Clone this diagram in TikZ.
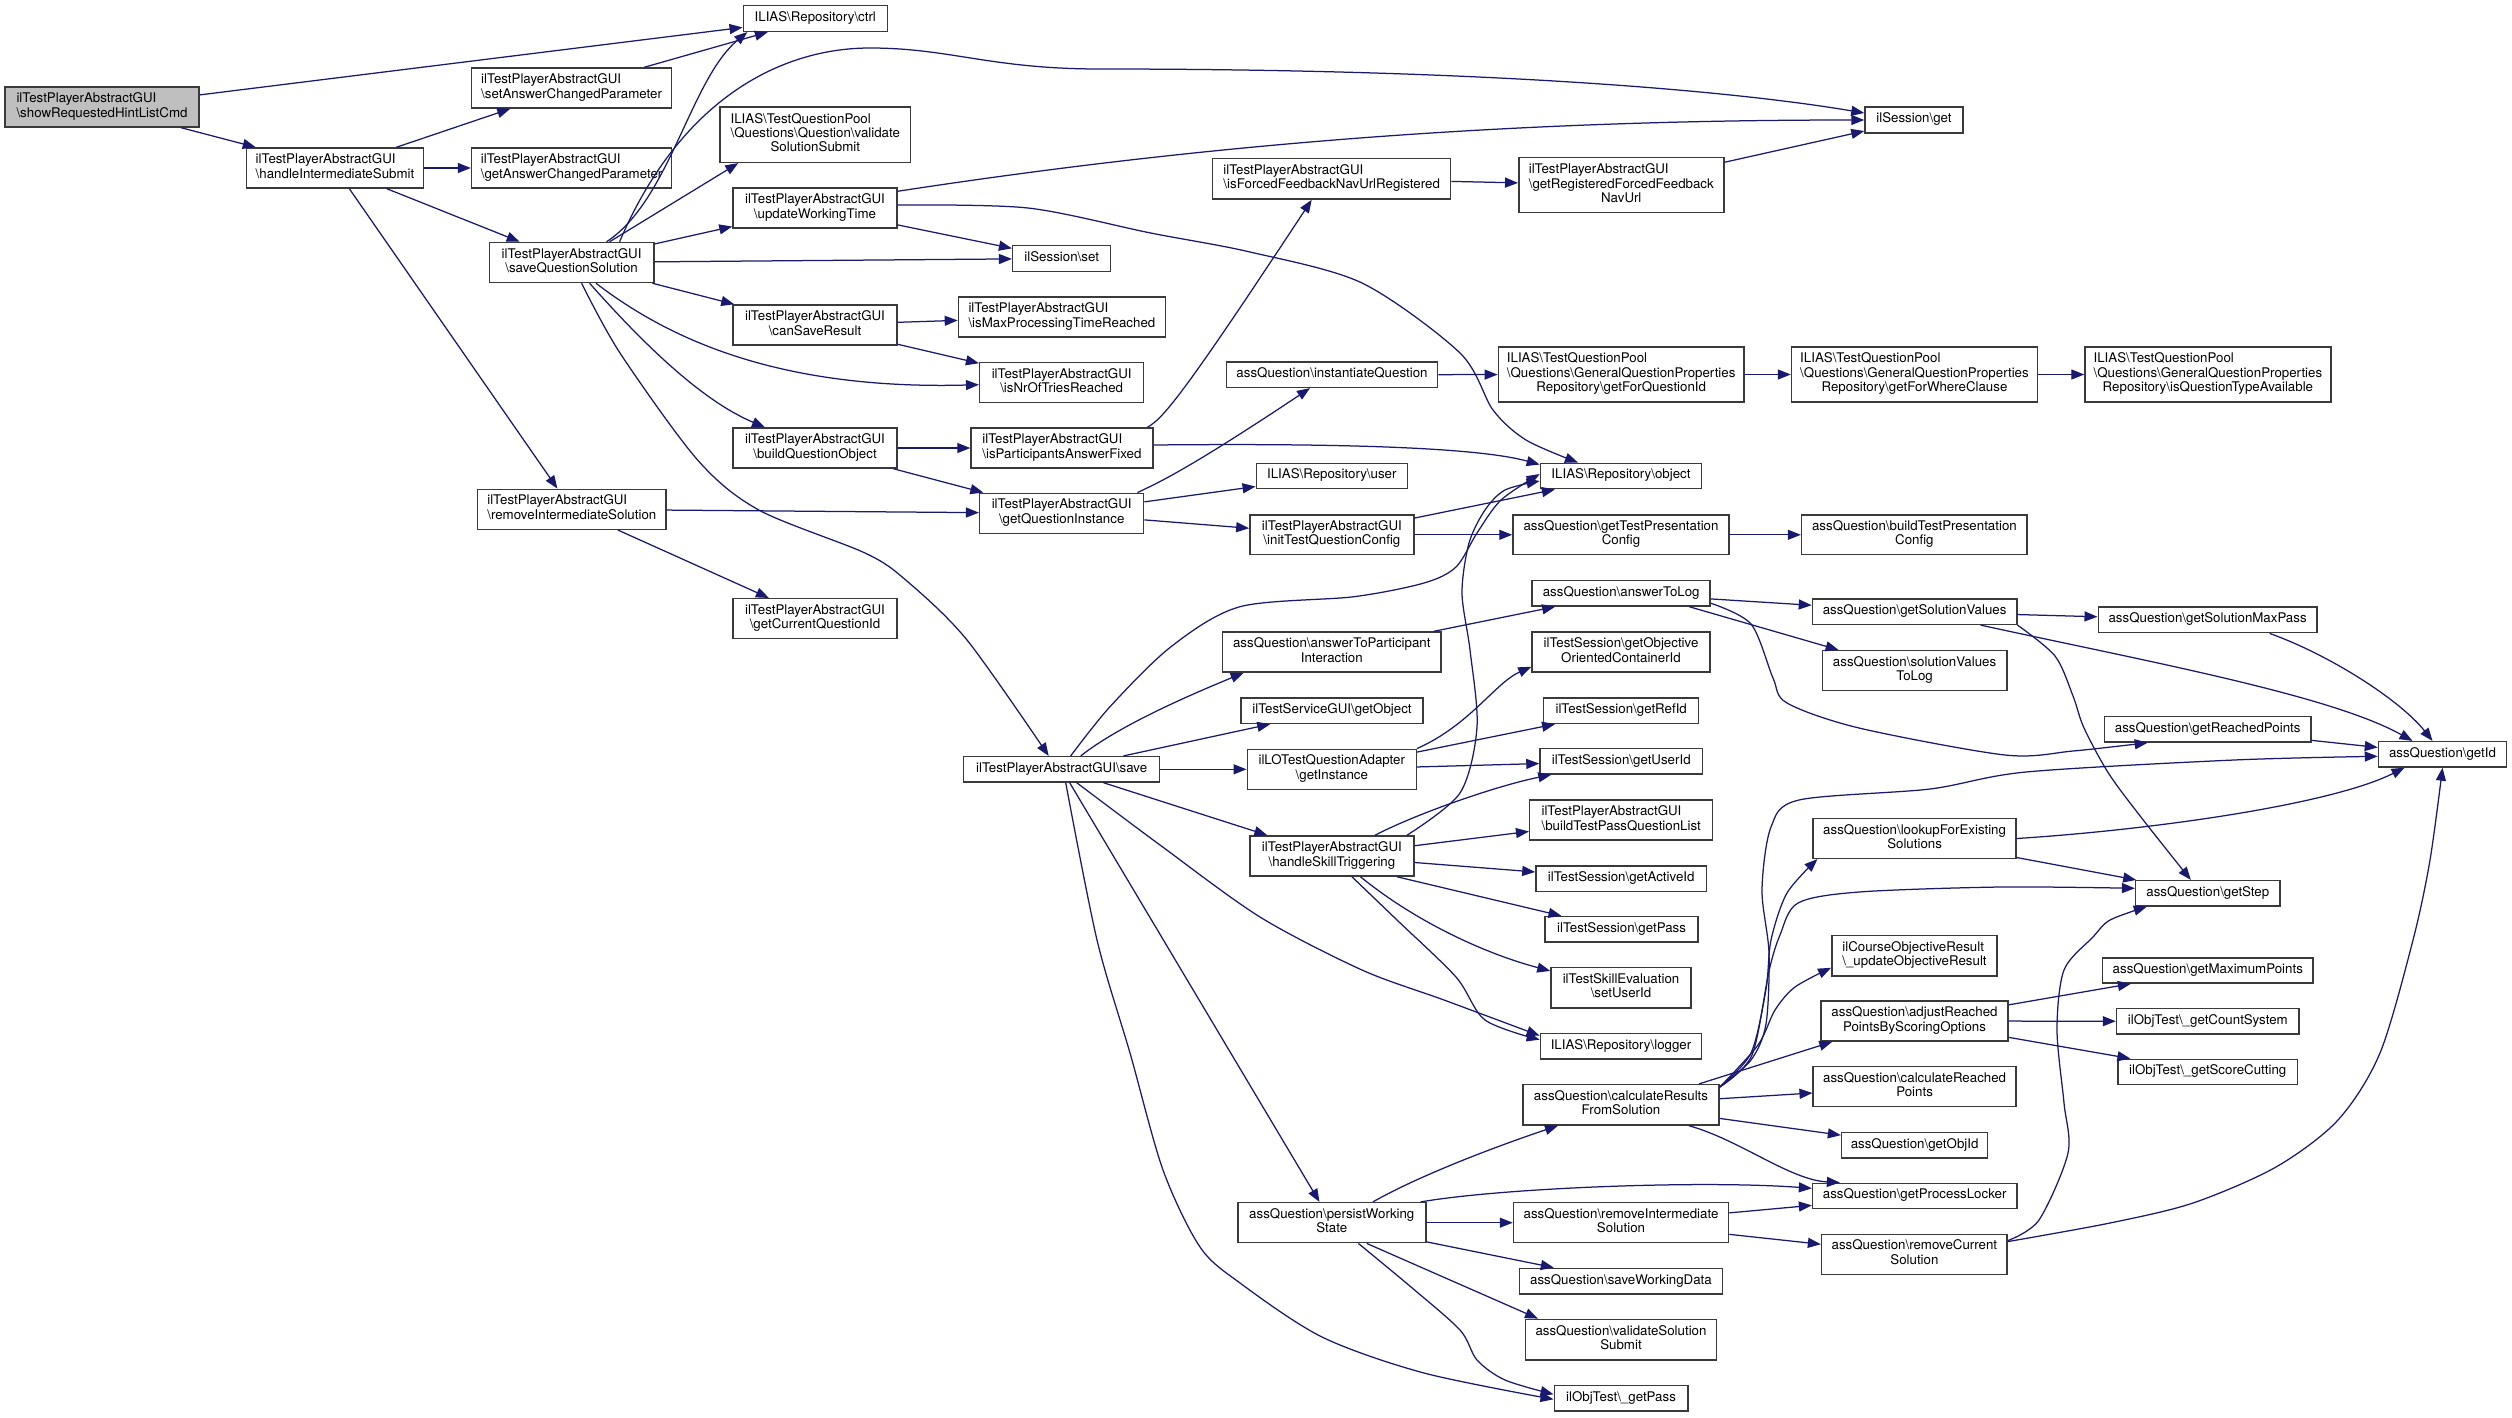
\documentclass[tikz,border=0pt]{standalone}
\usepackage{fontspec}
\setmainfont{TeX Gyre Heros}
\usetikzlibrary{arrows.meta}
\definecolor{mblue}{HTML}{191970}
\definecolor{rootgray}{HTML}{BFBFBF}
\definecolor{bordergray}{HTML}{3A3A3A}
\newcommand{\BS}{\textbackslash}
\newcommand{\oneline}[1]{\begin{tabular}{@{}c@{}}#1\end{tabular}}
\newcommand{\twoline}[2]{\begin{tabular}{@{}l@{}}#1\\\multicolumn{1}{@{}c@{}}{#2}\end{tabular}}
\newcommand{\threeline}[3]{\begin{tabular}{@{}l@{}}#1\\#2\\\multicolumn{1}{@{}c@{}}{#3}\end{tabular}}
\newcommand{\TPG}{ilTestPlayerAbstractGUI}
\newcommand{\TQP}{ILIAS\BS{}TestQuestionPool}
\newcommand{\GQP}{\BS{}Questions\BS{}GeneralQuestionProperties}
\tikzset{
  box/.style={draw=bordergray, line width=1.5pt, fill=white, inner sep=0pt, text=black,
    font=\fontsize{13.3}{14.4}\selectfont},
  rootbox/.style={box, fill=rootgray},
  wh/.style 2 args={minimum width=#1pt, minimum height=#2pt},
  edge/.style={draw=mblue, line width=1.25pt, -{Triangle[length=13pt,width=10pt]}, fill=none},
}
\begin{document}
\begin{tikzpicture}[x=1pt, y=-1pt]
\fill[white] (0,0) rectangle (2512,1417);
\useasboundingbox (0,0) rectangle (2512,1417);
% ---------------- nodes ----------------
\node[rootbox, wh={194}{40}] (n1) at (102,107) {\twoline{\TPG}{\BS{}showRequestedHintListCmd}};
\node[box, wh={177}{40}] (n2) at (335,168) {\twoline{\TPG}{\BS{}handleIntermediateSubmit}};
\node[box, wh={200}{40}] (n3) at (571.6,88) {\twoline{\TPG}{\BS{}setAnswerChangedParameter}};
\node[box, wh={200}{40}] (n4) at (571.6,168) {\twoline{\TPG}{\BS{}getAnswerChangedParameter}};
\node[box, wh={164.5}{40}] (n5) at (571.6,262.5) {\twoline{\TPG}{\BS{}saveQuestionSolution}};
\node[box, wh={144}{25.6}] (n6) at (815.3,18.5) {\oneline{ILIAS\BS{}Repository\BS{}ctrl}};
\node[box, wh={190.6}{55.3}] (n7) at (815.3,134.7) {\threeline{\TQP}{\BS{}Questions\BS{}Question\BS{}validate}{SolutionSubmit}};
\node[box, wh={164}{40}] (n8) at (815,208) {\twoline{\TPG}{\BS{}updateWorkingTime}};
\node[box, wh={98}{25.6}] (n9) at (1061.7,258.5) {\oneline{ilSession\BS{}set}};
\node[box, wh={164}{40}] (n10) at (815,325) {\twoline{\TPG}{\BS{}canSaveResult}};
\node[box, wh={207}{40}] (n11) at (1061.9,317) {\twoline{\TPG}{\BS{}isMaxProcessingTimeReached}};
\node[box, wh={164}{40}] (n12) at (1061.7,382.5) {\twoline{\TPG}{\BS{}isNrOfTriesReached}};
\node[box, wh={164}{40}] (n13) at (815,448) {\twoline{\TPG}{\BS{}buildQuestionObject}};
\node[box, wh={181.7}{40}] (n14) at (1061.9,448) {\twoline{\TPG}{\BS{}isParticipantsAnswerFixed}};
\node[box, wh={238}{40.7}] (n15) at (1331.7,178.7) {\twoline{\TPG}{\BS{}isForcedFeedbackNavUrlRegistered}};
\node[box, wh={205}{55}] (n16) at (1621.3,185.2) {\threeline{\TPG}{\BS{}getRegisteredForcedFeedback}{NavUrl}};
\node[box, wh={98}{25.6}] (n17) at (1914,120) {\oneline{ilSession\BS{}get}};
\node[box, wh={211}{25.3}] (n18) at (1332,374.7) {\oneline{assQuestion\BS{}instantiateQuestion}};
\node[box, wh={245.6}{55}] (n19) at (1621.2,374.5) {\threeline{\TQP}{\GQP}{Repository\BS{}getForQuestionId}};
\node[box, wh={246}{55}] (n20) at (1914.5,374.5) {\threeline{\TQP}{\GQP}{Repository\BS{}getForWhereClause}};
\node[box, wh={245.7}{55}] (n21) at (2207.9,374.5) {\threeline{\TQP}{\GQP}{Repository\BS{}isQuestionTypeAvailable}};
\node[box, wh={151}{25.4}] (n22) at (1331.8,476) {\oneline{ILIAS\BS{}Repository\BS{}user}};
\node[box, wh={161.2}{25.4}] (n23) at (1621,476) {\oneline{ILIAS\BS{}Repository\BS{}object}};
\node[box, wh={188.4}{40}] (n24) at (571.8,509.3) {\twoline{\TPG}{\BS{}removeIntermediateSolution}};
\node[box, wh={164}{40}] (n25) at (1061.7,513.3) {\twoline{\TPG}{\BS{}getQuestionInstance}};
\node[box, wh={164}{40}] (n26) at (815,618.7) {\twoline{\TPG}{\BS{}getCurrentQuestionId}};
\node[box, wh={196}{25.3}] (n27) at (1061.7,769.3) {\oneline{\TPG\BS{}save}};
\node[box, wh={164}{39.7}] (n28) at (1331.9,534.8) {\twoline{\TPG}{\BS{}initTestQuestionConfig}};
\node[box, wh={216}{39.7}] (n29) at (1621,534.8) {\twoline{assQuestion\BS{}getTestPresentation}{Config}};
\node[box, wh={225.6}{39.7}] (n30) at (1914.4,534.8) {\twoline{assQuestion\BS{}buildTestPresentation}{Config}};
\node[box, wh={178}{25.3}] (n31) at (1621.2,593.3) {\oneline{assQuestion\BS{}answerToLog}};
\node[box, wh={218.8}{40}] (n32) at (1331.8,652) {\twoline{assQuestion\BS{}answerToParticipant}{Interaction}};
\node[box, wh={178}{40}] (n33) at (1621,652) {\twoline{ilTestSession\BS{}getObjective}{OrientedContainerId}};
\node[box, wh={182.3}{25.3}] (n34) at (1332,710.7) {\oneline{ilTestServiceGUI\BS{}getObject}};
\node[box, wh={155}{25.3}] (n35) at (1621.2,710.7) {\oneline{ilTestSession\BS{}getRefId}};
\node[box, wh={169}{40}] (n36) at (1331.8,769.3) {\twoline{ilLOTestQuestionAdapter}{\BS{}getInstance}};
\node[box, wh={162.4}{25.3}] (n37) at (1621.2,761.3) {\oneline{ilTestSession\BS{}getUserId}};
\node[box, wh={183}{40}] (n38) at (1621.2,820) {\twoline{\TPG}{\BS{}buildTestPassQuestionList}};
\node[box, wh={164}{40}] (n39) at (1331.9,856) {\twoline{\TPG}{\BS{}handleSkillTriggering}};
\node[box, wh={170.5}{25.3}] (n40) at (1621.2,878.7) {\oneline{ilTestSession\BS{}getActiveId}};
\node[box, wh={153}{25.3}] (n41) at (1621.5,929.3) {\oneline{ilTestSession\BS{}getPass}};
\node[box, wh={140}{40.3}] (n42) at (1621,987.8) {\twoline{ilTestSkillEvaluation}{\BS{}setUserId}};
\node[box, wh={161.2}{25.6}] (n43) at (1621,1046.2) {\oneline{ILIAS\BS{}Repository\BS{}logger}};
\node[box, wh={196.3}{40.3}] (n44) at (1621,1104.8) {\twoline{assQuestion\BS{}calculateResults}{FromSolution}};
\node[box, wh={188}{40}] (n45) at (1331.8,1222.7) {\twoline{assQuestion\BS{}persistWorking}{State}};
\node[box, wh={215}{40}] (n46) at (1621,1222.7) {\twoline{assQuestion\BS{}removeIntermediate}{Solution}};
\node[box, wh={202.8}{25.7}] (n47) at (1621,1281.2) {\oneline{assQuestion\BS{}saveWorkingData}};
\node[box, wh={190.6}{40.7}] (n48) at (1621,1339.7) {\twoline{assQuestion\BS{}validateSolution}{Submit}};
\node[box, wh={133.5}{25.3}] (n49) at (1621,1398.3) {\oneline{ilObjTest\BS\_getPass}};
\node[box, wh={204.3}{25.3}] (n50) at (1914.6,611.7) {\oneline{assQuestion\BS{}getSolutionValues}};
\node[box, wh={218.7}{25.7}] (n51) at (2207.6,619.8) {\oneline{assQuestion\BS{}getSolutionMaxPass}};
\node[box, wh={184.3}{40}] (n52) at (1914.6,670.7) {\twoline{assQuestion\BS{}solutionValues}{ToLog}};
\node[box, wh={206.5}{25.3}] (n53) at (2207.7,729.3) {\oneline{assQuestion\BS{}getReachedPoints}};
\node[box, wh={128}{25.3}] (n54) at (2442.5,754.3) {\oneline{assQuestion\BS{}getId}};
\node[box, wh={202.8}{39.6}] (n55) at (1914.6,838.5) {\twoline{assQuestion\BS{}lookupForExisting}{Solutions}};
\node[box, wh={144.3}{25.3}] (n56) at (2207.8,893.3) {\oneline{assQuestion\BS{}getStep}};
\node[box, wh={165.4}{40.3}] (n57) at (1914.5,955.8) {\twoline{ilCourseObjectiveResult}{\BS\_updateObjectiveResult}};
\node[box, wh={210.8}{25}] (n58) at (2207.8,970.5) {\oneline{assQuestion\BS{}getMaximumPoints}};
\node[box, wh={187}{40}] (n59) at (1914.5,1021) {\twoline{assQuestion\BS{}adjustReached}{PointsByScoringOptions}};
\node[box, wh={182.5}{25.3}] (n60) at (2207.8,1021.3) {\oneline{ilObjTest\BS\_getCountSystem}};
\node[box, wh={179.4}{25.4}] (n61) at (2207.7,1072) {\oneline{ilObjTest\BS\_getScoreCutting}};
\node[box, wh={202.8}{40}] (n62) at (1914.6,1086.7) {\twoline{assQuestion\BS{}calculateReached}{Points}};
\node[box, wh={146}{25.3}] (n63) at (1914.6,1145.3) {\oneline{assQuestion\BS{}getObjId}};
\node[box, wh={204.2}{25.4}] (n64) at (1914.7,1196) {\oneline{assQuestion\BS{}getProcessLocker}};
\node[box, wh={185.6}{40}] (n65) at (1914.4,1254.3) {\twoline{assQuestion\BS{}removeCurrent}{Solution}};
% ---------------- edges ----------------
\draw[edge] (n1) -- (n6);
\draw[edge] (n1) -- (n2);
\draw[edge] (n2) -- (n3);
\draw[edge] (n2) -- (n4);
\draw[edge] (n2) -- (n5);
\draw[edge] (n2) -- (n24);
\draw[edge] (n3) -- (n6);
\draw[edge] ([xshift=35pt]n5.north) .. controls (670,200) and (690,80) .. ([xshift=-68pt]n6.south);
\draw[edge] ([xshift=48pt]n5.north) .. controls (680,100) and (780,48) .. (870,48)
   .. controls (950,48) and (990,69) .. (1100,69)
   .. controls (1500,69) and (1740,92) .. ([yshift=7pt]n17.west);
\draw[edge] ([xshift=38pt]n5.north) -- ([xshift=-77pt]n7.south);
\draw[edge] (n5) -- (n8);
\draw[edge] (n5) -- (n9);
\draw[edge] (n5) -- (n10);
\draw[edge] ([xshift=24.4pt]n5.south) .. controls (670,340) and (780,390) .. (n12);
\draw[edge] ([xshift=18pt]n5.south) .. controls (640,340) and (700,400) .. ([xshift=-50pt]n13.north);
\draw[edge] plot[smooth] coordinates {([xshift=10pt]n5.south) (620,353) (697.6,460) (758.8,510) (865,553) (905.7,580) (967,640) ([xshift=-13pt]n27.north)};
\draw[edge] ([yshift=-4pt]n8.north east) .. controls (1200,145) and (1500,120) .. (n17.west);
\draw[edge] (n8) -- (n9);
\draw[edge] plot[smooth] coordinates {([yshift=3pt]n8.east) (1028,208) (1150.6,233) (1250,252) (1362,283) (1460,353) (1493,410) (1526,440) ([xshift=-43pt]n23.north)};
\draw[edge] (n10) -- (n11);
\draw[edge] (n10) -- (n12);
\draw[edge] (n13) -- (n14);
\draw[edge] (n13) -- (n25);
\draw[edge] ([xshift=-6pt]n14.north east) .. controls (1163,418) and (1180,400) .. ([xshift=-20pt]n15.south);
\draw[edge] ([yshift=3pt]n14.east) .. controls (1350,443) and (1480,448) .. ([yshift=-2pt]n23.north west);
\draw[edge] (n15) -- (n16);
\draw[edge] (n16) -- (n17);
\draw[edge] (n18) -- (n19);
\draw[edge] (n19) -- (n20);
\draw[edge] (n20) -- (n21);
\draw[edge] ([xshift=-7pt]n25.north east) .. controls (1160,482) and (1190,468) .. ([xshift=-22pt]n18.south);
\draw[edge] (n25) -- (n22);
\draw[edge] (n25) -- (n28);
\draw[edge] (n24) -- (n25);
\draw[edge] (n24) -- (n26);
\draw[edge] (n28) -- (n23);
\draw[edge] (n28) -- (n29);
\draw[edge] (n29) -- (n30);
\draw[edge] plot[smooth] coordinates {([xshift=9pt]n27.north) (1110,706.7) (1171,646.7) (1240,606.7) (1354,596.7) (1424,583) (1456,567) (1477,533) (1501,500) ([yshift=2pt]n23.west)};
\draw[edge] ([xshift=19pt]n27.north) .. controls (1120,725) and (1190,695) .. ([xshift=22pt]n32.south west);
\draw[edge] (n27) -- (n34);
\draw[edge] (n27) -- (n36);
\draw[edge] (n27) -- (n39);
\draw[edge] plot[smooth] coordinates {([xshift=15pt]n27.south) (1160,845) (1260,917) (1362,970) (1444,1000) ([yshift=-3pt]n43.north west)};
\draw[edge] (n27) -- (n45);
\draw[edge] plot[smooth] coordinates {([xshift=4pt]n27.south) (1097,940) (1130,1053) (1163,1170) (1200,1247) (1240,1283) (1322,1337) (1424,1373) ([yshift=-1pt]n49.west)};
\draw[edge] (n32) -- (n31);
\draw[edge] (n36.north east) .. controls (1470,725) and (1495,683) .. ([yshift=6pt]n33.south west);
\draw[edge] (n36) -- (n35);
\draw[edge] (n36) -- (n37);
\draw[edge] ([xshift=43pt]n39.north) .. controls (1420,812) and (1500,785) .. ([xshift=12pt]n37.south west);
\draw[edge] plot[smooth] coordinates {([xshift=75pt]n39.north) (1460,793) (1477,727) (1470,650) (1462,593) (1469,543) (1485,510) (1505,490) ([yshift=-5pt]n23.west)};
\draw[edge] (n39) -- (n38);
\draw[edge] (n39) -- (n40);
\draw[edge] ([xshift=65pt]n39.south) -- ([xshift=-60pt]n41.north);
\draw[edge] ([xshift=28.5pt]n39.south) .. controls (1420,925) and (1490,955) .. ([yshift=-4pt]n42.north west);
\draw[edge] plot[smooth] coordinates {([xshift=20pt]n39.south) (1397,920) (1456,977) (1485,1020) ([yshift=-7pt]n43.north west)};
\draw[edge] (n31) -- (n50);
\draw[edge] ([xshift=68pt]n31.south) -- ([xshift=-76pt]n52.north);
\draw[edge] plot[smooth] coordinates {([yshift=-10pt]n31.east) (1751,624) (1773,678) (1787,703) (1859,728) (2005,755) (2073,751) ([xshift=-60pt]n53.south)};
\draw[edge] (n50) -- (n51);
\draw[edge] ([xshift=66pt]n50.south) .. controls (2150,662) and (2330,695) .. ([xshift=-30pt]n54.north);
\draw[edge] plot[smooth] coordinates {(n50.south east) (2055,656) (2073,696) (2084,728) (2109,774) (2144,821) ([xshift=-17pt]n56.north)};
\draw[edge] ([xshift=62pt]n51.south) .. controls (2330,655) and (2400,700) .. ([xshift=-10pt]n54.north);
\draw[edge] (n53) -- (n54);
\draw[edge] plot[smooth] coordinates {([yshift=-3pt]n44.north east) (1751,1060) (1766,1024) (1769,953) (1762,890) (1771,827) (1799,800) (1930,789) (2026,772) (2234,760) ([yshift=-2pt]n54.west)};
\draw[edge] plot[smooth] coordinates {([yshift=-3pt]n44.north east) (1751,1053) (1766,989) (1771,940) (1787,893) ([xshift=5pt]n55.south west)};
\draw[edge] plot[smooth] coordinates {([yshift=-3pt]n44.north east) (1752,1055) (1769,971) (1780,935) (1798,903) (1859,892) (2001,887) ([yshift=5pt]n56.west)};
\draw[edge] plot[smooth] coordinates {([yshift=-3pt]n44.north east) (1758,1045) (1775,1010) (1795,987) ([yshift=-12pt]n57.west)};
\draw[edge] ([xshift=78pt]n44.north) -- ([xshift=12pt]n59.south west);
\draw[edge] (n44) -- (n62);
\draw[edge] (n44) -- (n63);
\draw[edge] ([xshift=68pt]n44.south) .. controls (1740,1140) and (1790,1180) .. ([xshift=28pt]n64.north west);
\draw[edge] (n55.east) .. controls (2150,830) and (2330,805) .. ([xshift=-38pt]n54.south);
\draw[edge] (n55) -- (n56);
\draw[edge] (n59) -- (n58);
\draw[edge] (n59) -- (n60);
\draw[edge] (n59) -- (n61);
\draw[edge] ([xshift=41pt]n45.north) .. controls (1420,1175) and (1500,1145) .. ([xshift=-63pt]n44.south);
\draw[edge] ([xshift=-6pt]n45.north east) .. controls (1500,1188) and (1700,1180) .. ([yshift=7.7pt]n64.west);
\draw[edge] (n45) -- (n46);
\draw[edge] (n45) -- (n47);
\draw[edge] ([xshift=35pt]n45.south) -- ([xshift=-83pt]n48.north);
\draw[edge] plot[smooth] coordinates {([xshift=26.6pt]n45.south) (1411,1287) (1460,1330) (1477,1360) (1505,1380) ([yshift=4pt]n49.west)};
\draw[edge] (n46) -- (n64);
\draw[edge] (n46) -- (n65);
\draw[edge] plot[smooth] coordinates {([yshift=-7pt]n65.north east) (2039,1220) (2068,1153) (2064,1103) (2057,1030) (2064,970) (2093,937) (2110,920) ([xshift=-61pt]n56.south)};
\draw[edge] plot[smooth] coordinates {([yshift=-8pt]n65.north east) (2110,1223) (2193,1203) (2276,1167) (2338,1120) (2380,1053) (2413,940) (2430,860) (n54.south)};
\end{tikzpicture}
\end{document}
